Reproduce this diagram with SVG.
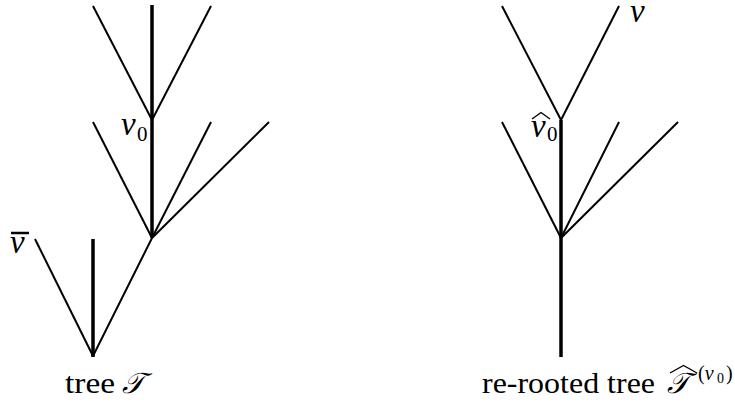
<svg xmlns="http://www.w3.org/2000/svg" width="735" height="406" viewBox="0 0 735 406">
<style>
.thin{stroke:#000;stroke-width:2;fill:none}
.thick{stroke:#000;stroke-width:3.5;fill:none}
.acc{stroke:#000;stroke-width:1.4;fill:none;stroke-linejoin:miter}
text{font-family:"Liberation Serif","DejaVu Serif",serif;fill:#000}
.it{font-style:italic}
.cap{font-size:29px}
.lab{font-size:33px;font-style:italic}
.sub{font-size:21px;font-style:normal}
</style>
<rect width="735" height="406" fill="#fff"/>
<g id="edges">
<line class="thin" x1="93" y1="6" x2="152" y2="120"/>
<line class="thin" x1="211" y1="6" x2="152" y2="120"/>
<line class="thick" x1="152" y1="5" x2="152" y2="238"/>
<line class="thin" x1="93" y1="122" x2="152" y2="238"/>
<line class="thin" x1="211" y1="122" x2="152" y2="238"/>
<line class="thin" x1="269" y1="122" x2="152" y2="238"/>
<line class="thin" x1="152" y1="238" x2="93" y2="356"/>
<line class="thin" x1="35" y1="239" x2="93" y2="356"/>
<line class="thick" x1="93" y1="239" x2="93" y2="357"/>
<line class="thin" x1="502" y1="6" x2="561" y2="120"/>
<line class="thin" x1="619" y1="6" x2="561" y2="120"/>
<line class="thin" x1="502" y1="122" x2="561" y2="238"/>
<line class="thin" x1="619" y1="122" x2="561" y2="238"/>
<line class="thin" x1="678" y1="122" x2="561" y2="238"/>
<line class="thick" x1="561" y1="120" x2="561" y2="357"/>
</g>
<g id="node-v0">
<text class="lab" x="121" y="135">v</text>
<text class="sub" x="137" y="141">0</text>
</g>
<g id="node-vbar">
<line x1="11" y1="233" x2="29" y2="233" stroke="#000" stroke-width="2.5"/>
<text class="lab" x="10" y="253">v</text>
</g>
<g id="node-v0hat">
<polyline class="acc" points="532,119 541,112.5 550,119"/>
<text class="lab" x="531" y="137">v</text>
<text class="sub" x="547" y="141">0</text>
</g>
<g id="node-v">
<text class="lab" x="630" y="22">v</text>
</g>
<g id="caption-left">
<text class="cap" x="65" y="393" textLength="50" lengthAdjust="spacingAndGlyphs">tree</text>
<text class="cap it" x="122" y="393">𝒯</text>
</g>
<g id="caption-right">
<text class="cap" x="482" y="393" textLength="173" lengthAdjust="spacingAndGlyphs">re-rooted tree</text>
<polyline class="acc" points="670,373 683.5,365.5 697,373"/>
<text class="cap it" x="667" y="393">𝒯</text>
<text style="font-size:20px" x="698" y="380">(<tspan class="it">v</tspan></text>
<text style="font-size:14px" x="717" y="383">0</text>
<text style="font-size:20px" x="726" y="380">)</text>
</g>
</svg>
